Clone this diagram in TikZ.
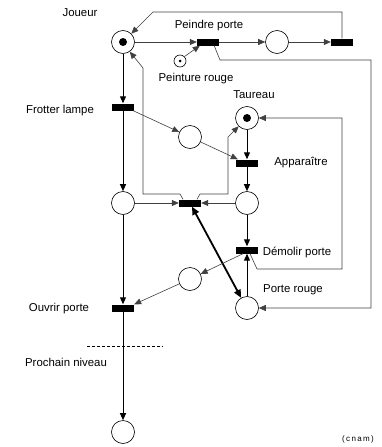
\documentclass[tikz,border=0pt]{standalone}
\usepackage{fontspec}
\setmainfont{Liberation Sans}
\usetikzlibrary{arrows.meta}
\begin{document}
\begin{tikzpicture}[x=1pt,y=-1pt,
  place/.style={circle,draw,line width=0.6pt,minimum size=23pt,inner sep=0pt},
  smallplace/.style={circle,draw,line width=0.6pt,minimum size=12pt,inner sep=0pt},
  trans/.style={rectangle,fill=black,minimum width=22pt,minimum height=7pt,inner sep=0pt},
  tok/.style={circle,fill=black,minimum size=8pt,inner sep=0pt},
  lbl/.style={font=\fontsize{11.4}{13}\selectfont,inner sep=0pt},
  arc/.style={line width=0.6pt,draw=black!75,-{Triangle[length=7pt,width=6pt]}},
  mainarc/.style={line width=1pt,draw=black,-{Triangle[length=7pt,width=6pt]}}
]
\useasboundingbox (0,0) rectangle (381,447);
% places
\node[place] (J) at (123,42) {};
\node[tok] at (J) {};
\node[smallplace] (PR) at (180,61) {};
\node[circle,fill=black,minimum size=3pt,inner sep=0pt] at (PR) {};
\node[place] (P2) at (277,42) {};
\node[place] (T) at (247,118) {};
\node[tok] at (T) {};
\node[place] (LP) at (190,137) {};
\node[place] (L) at (123,203) {};
\node[place] (Q) at (247,203) {};
\node[place] (M) at (190,279) {};
\node[place] (PRg) at (247,308) {};
\node[place] (F) at (123,432) {};
% transitions
\node[trans] (T1) at (208,42) {};
\node[trans] (T2) at (342,42) {};
\node[trans] (FL) at (123,107) {};
\node[trans] (A) at (247,163) {};
\node[trans] (C) at (190,203) {};
\node[trans] (D) at (247,250) {};
\node[trans] (O) at (123,308) {};
% labels
\node[lbl] (lJ) at (80,13) {Joueur};
\node[lbl] (lPP) at (209,26) {Peindre porte};
\node[lbl] (lPR) at (196,79) {Peinture rouge};
\node[lbl] (lT) at (254,95) {Taureau};
\node[lbl] (lA) at (301,163) {Apparaître};
\node[lbl] (lFL) at (60,111) {Frotter lampe};
\node[lbl] (lD) at (297,252) {Démolir porte};
\node[lbl] (lPRg) at (293,290) {Porte rouge};
\node[lbl] (lO) at (59,309) {Ouvrir porte};
\node[lbl] (lN) at (66,362) {Prochain niveau};
\node[font=\fontsize{8}{9}\selectfont,inner sep=0pt] (cnam) at (358,439) {(\,c\,n\,a\,m\,)};
% corner coordinates
\coordinate (a1) at (342,12);
\coordinate (a2) at (153,12);
\coordinate (b1) at (220,60);
\coordinate (b2) at (371,308);
\coordinate (c1) at (180,194);
\coordinate (c2) at (143,194);
\coordinate (c3) at (143,68);
\coordinate (d1) at (200,194);
\coordinate (d2) at (228,194);
\coordinate (d3) at (228,137);
\coordinate (e1) at (257,269);
\coordinate (e2) at (342,118);
% arcs
\draw[arc] (J.east) -- (T1.west);
\draw[arc] (T1.east) -- (P2.west);
\draw[arc] (P2.east) -- (T2.west);
\draw[arc] (T2.north) -- (a1) -- (a2) -- (J.45);
\draw[arc] (PR.north east) -- ([xshift=3pt]T1.south west);
\draw[arc] ([xshift=-5pt]T1.south east) -- (b1) -| (b2) -- (PRg.east);
\draw[mainarc] (J.south) -- (FL.north);
\draw[arc] ([xshift=-1pt]FL.south east) -- (LP);
\draw[arc] (LP) -- ([xshift=2pt]A.north west);
\draw[mainarc] (T.south) -- (A.north);
\draw[mainarc] (A.south) -- (Q.north);
\draw[mainarc] (FL.south) -- (L.north);
\draw[arc] (L.east) -- (C.west);
\draw[arc] (Q.west) -- (C.east);
\draw[arc] ([xshift=-7pt]C.north) -- (c1) -- (c2) -- (c3) -- (J.-55);
\draw[arc] ([xshift=7pt]C.north) -- (d1) -- (d2) -- (d3) -- (T.225);
\draw[line width=1.8pt,{Triangle[length=8pt,width=7pt]}-{Triangle[length=8pt,width=7pt]}] ([xshift=2pt]C.south) -- (PRg.120);
\draw[mainarc] (Q.south) -- (D.north);
\draw[mainarc] (PRg.north) -- (D.south);
\draw[arc] ([xshift=3pt]D.south) -- (e1) -| (e2) -- (T.east);
\draw[arc] ([xshift=-4pt]D.south) -- (M);
\draw[arc] (M) -- (O.north east);
\draw[mainarc] (L.south) -- (O.north);
\draw[mainarc] (O.south) -- (F.north);
\draw[dashed,line width=0.5pt,dash pattern=on 3pt off 2pt] (87,346) -- (163,346);
\end{tikzpicture}
\end{document}
